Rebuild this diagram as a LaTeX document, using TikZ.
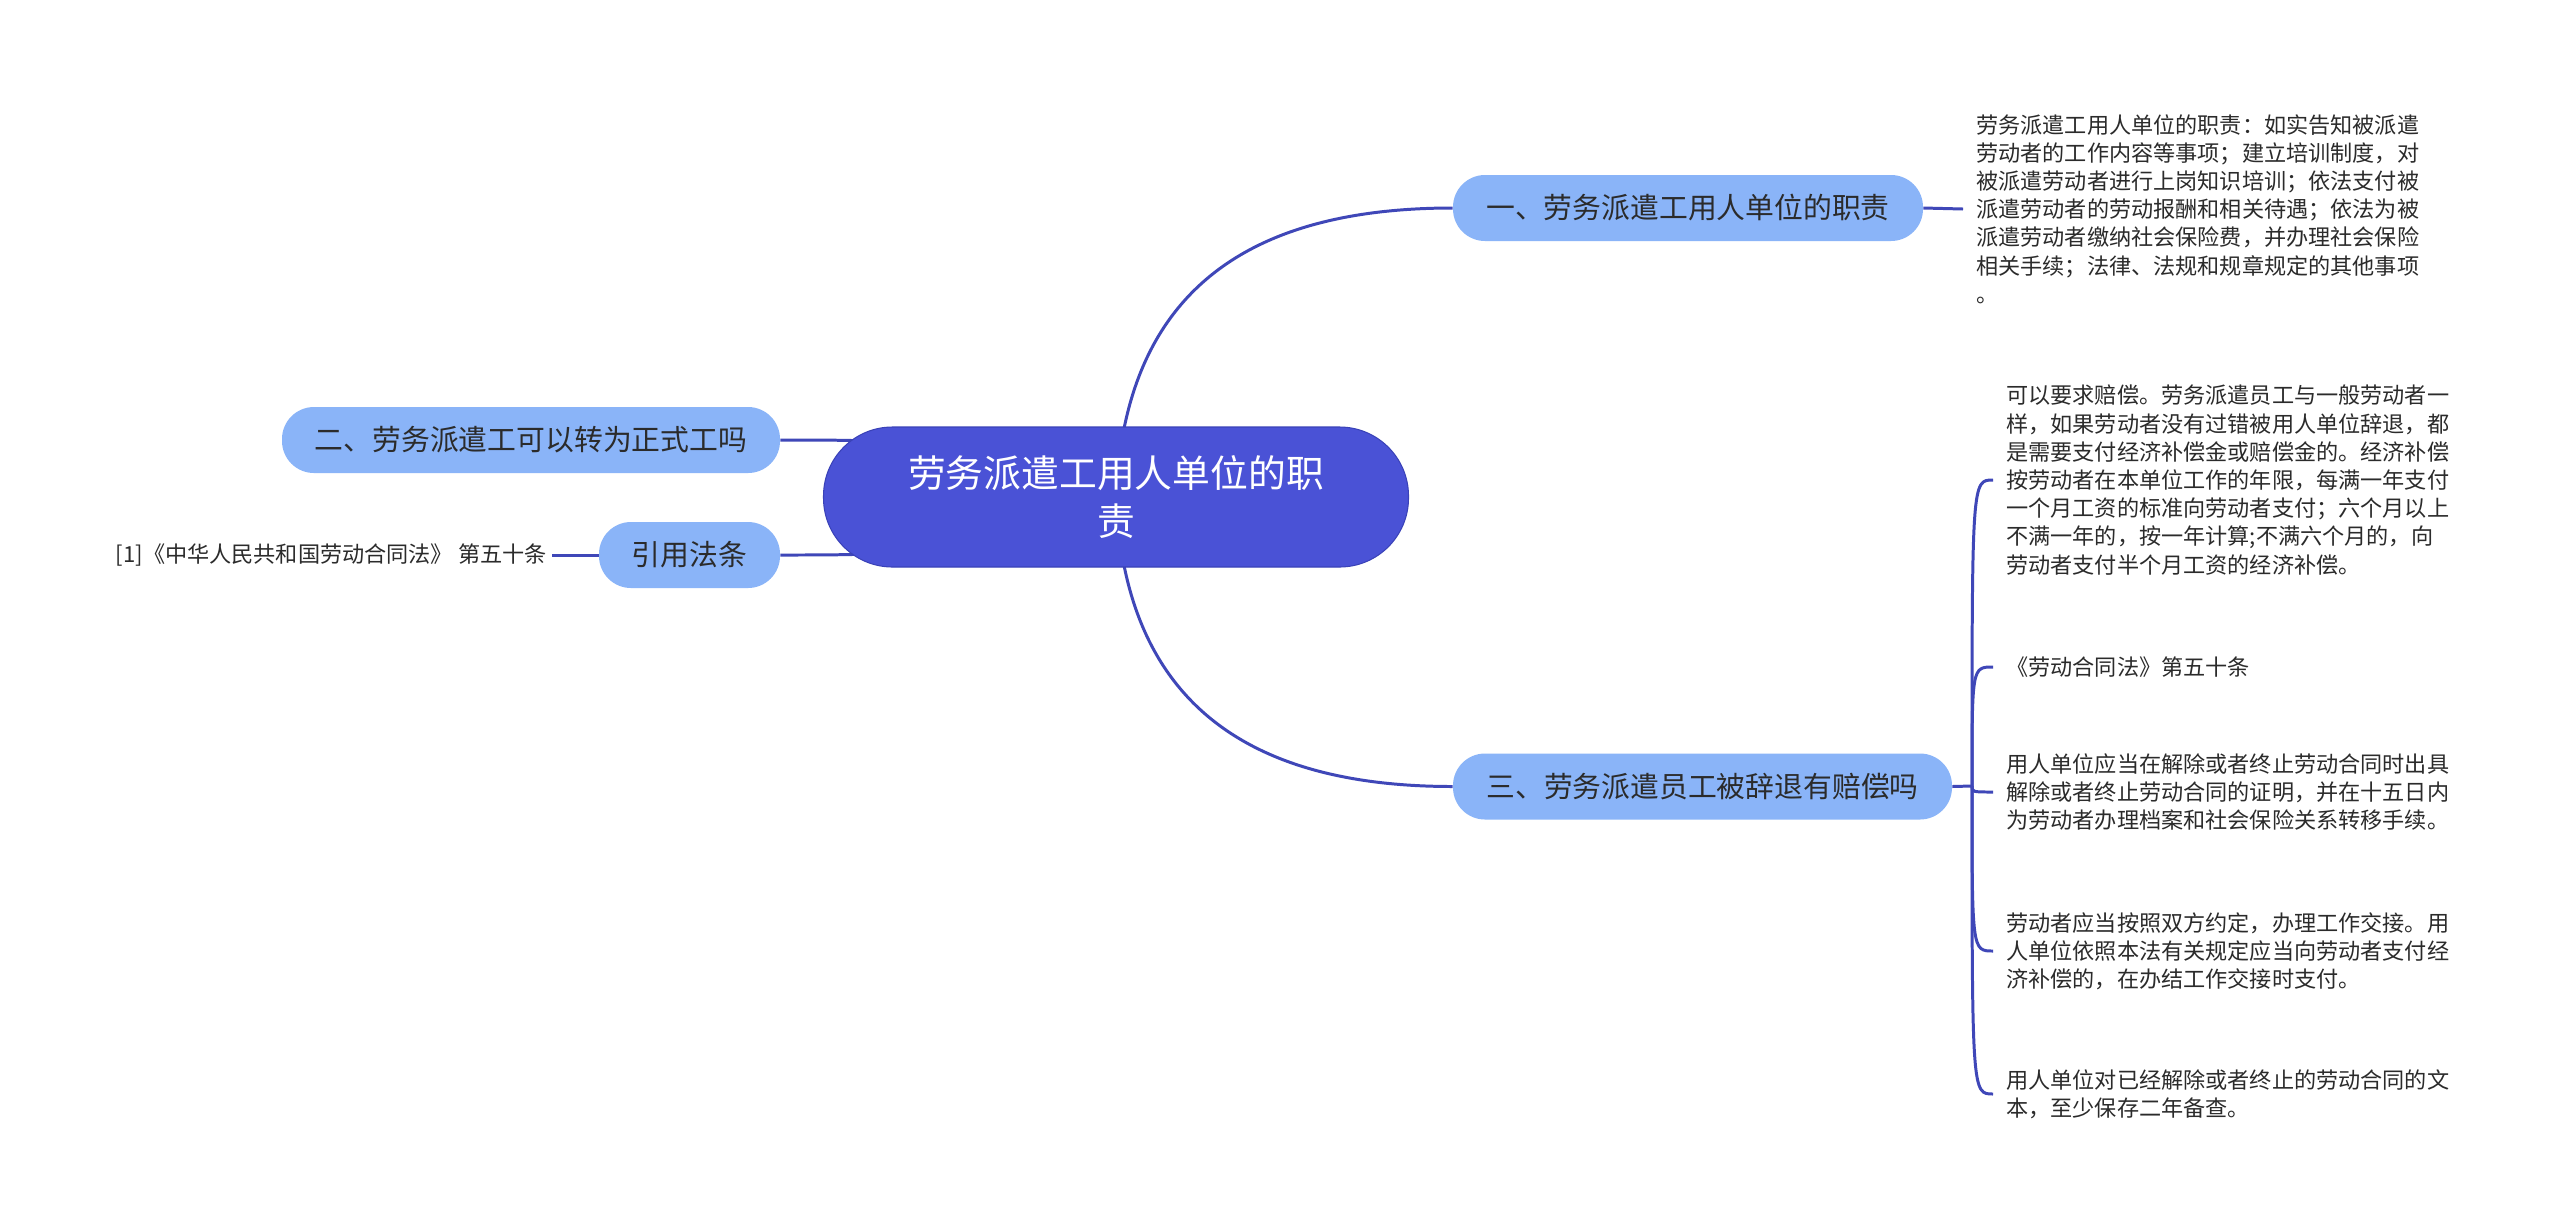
\documentclass[tikz,border=0pt]{standalone}
\usepackage{fontspec}
\newfontfamily\cjk{Noto Sans CJK SC}
\usepackage{tikz}
\usetikzlibrary{positioning,calc}
\definecolor{rootblue}{HTML}{4A52D6}
\definecolor{rootedge}{HTML}{3A42B8}
\definecolor{subblue}{HTML}{8AB4F8}
\definecolor{linkblue}{HTML}{3F47B8}
\definecolor{inkgray}{HTML}{2B2B2B}
\pgfdeclarelayer{background}
\pgfsetlayers{background,main}

\begin{document}
\begin{tikzpicture}[
  every node/.style={font=\cjk},
  rootbox/.style={draw=rootedge,line width=0.6pt,fill=rootblue,text=white,rounded corners=1.38cm,
                  minimum width=11.7cm,minimum height=2.8cm,align=center,
                  font=\cjk\fontsize{21.5pt}{27.8pt}\selectfont},
  topicbox/.style={fill=subblue,text=inkgray,rounded corners=0.64cm,minimum height=1.32cm,
                   inner xsep=0pt,font=\cjk\fontsize{16.4pt}{20pt}\selectfont},
  leaftext/.style={text=inkgray,align=left,inner xsep=0.26cm,inner ysep=0pt,
                   font=\cjk\fontsize{12.6pt}{16.05pt}\selectfont},
  link/.style={draw=linkblue,line width=1.7pt},
]
  \useasboundingbox (0,0) rectangle (51.2,-24.58);

  % Root
  \node[rootbox] (root) at (22.32,-9.94) {劳务派遣工用人单位的职\\责};

  % Topics
  \node[topicbox,minimum width=9.4cm] (duty) at (33.76,-4.16) {一、劳务派遣工用人单位的职责};
  \node[topicbox,minimum width=9.96cm] (convert) at (10.62,-8.80) {二、劳务派遣工可以转为正式工吗};
  \node[topicbox,minimum width=3.62cm] (lawref) at (13.79,-11.10) {引用法条};
  \node[topicbox,minimum width=9.98cm] (dismiss) at (34.05,-15.73) {三、劳务派遣员工被辞退有赔偿吗};

  % Leaves
  \node[leaftext,anchor=west] (dutytext) at (39.26,-4.18) {劳务派遣工用人单位的职责：如实告知被派遣\\劳动者的工作内容等事项；建立培训制度，对\\被派遣劳动者进行上岗知识培训；依法支付被\\派遣劳动者的劳动报酬和相关待遇；依法为被\\派遣劳动者缴纳社会保险费，并办理社会保险\\相关手续；法律、法规和规章规定的其他事项\\。};
  \node[leaftext,anchor=east,inner xsep=0.1cm] (lawtext) at (11.04,-11.10) {[1]《中华人民共和国劳动合同法》 第五十条};

  \coordinate (hub) at (39.44,-15.72);
  \node[leaftext,anchor=west] (payA) at (39.86,-9.60) {可以要求赔偿。劳务派遣员工与一般劳动者一\\样，如果劳动者没有过错被用人单位辞退，都\\是需要支付经济补偿金或赔偿金的。经济补偿\\按劳动者在本单位工作的年限，每满一年支付\\一个月工资的标准向劳动者支付；六个月以上\\不满一年的，按一年计算;不满六个月的，向\\劳动者支付半个月工资的经济补偿。};
  \node[leaftext,anchor=west] (payB) at (39.86,-13.34) {《劳动合同法》第五十条};
  \node[leaftext,anchor=west] (payC) at (39.86,-15.84) {用人单位应当在解除或者终止劳动合同时出具\\解除或者终止劳动合同的证明，并在十五日内\\为劳动者办理档案和社会保险关系转移手续。};
  \node[leaftext,anchor=west] (payD) at (39.86,-19.02) {劳动者应当按照双方约定，办理工作交接。用\\人单位依照本法有关规定应当向劳动者支付经\\济补偿的，在办结工作交接时支付。};
  \node[leaftext,anchor=west] (payE) at (39.86,-21.88) {用人单位对已经解除或者终止的劳动合同的文\\本，至少保存二年备查。};

  % Connectors
  \begin{pgfonlayer}{background}
    \fill[white] (0,0) rectangle (51.2,-24.58);
    \draw[link] (root.center) .. controls +(0.18,4.14) and +(-4.06,0) .. (duty.west);
    \draw[link] (root.center) .. controls +(0.18,-4.14) and +(-4.06,0) .. (dismiss.west);
    \draw[link] (root.center) .. controls +(-2.32,1.14) and +(2.4,0) .. (convert.east);
    \draw[link] (root.center) .. controls +(-2.32,-1.16) and +(2.4,0) .. (lawref.east);
  \end{pgfonlayer}
  \draw[link] (duty.east) -- (dutytext.west);
  \draw[link] (lawref.west) -- (lawtext.east);
  \draw[link] (dismiss.east) -- (hub);
  \foreach \leaf in {payA,payB,payC,payD,payE}
    \draw[link] (hub) .. controls (hub |- \leaf.west) .. (\leaf.west);
\end{tikzpicture}
\end{document}
